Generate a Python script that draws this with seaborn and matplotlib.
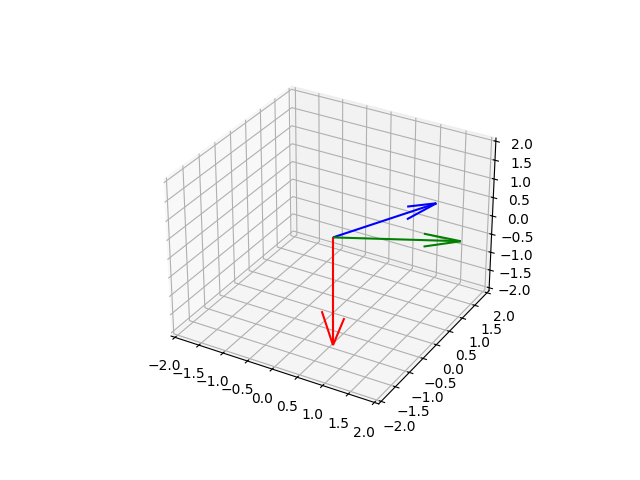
"""
3D quiver of three vectors from a common origin.
"""

import matplotlib

matplotlib.use("Agg")
import matplotlib.pyplot as plt
import seaborn as sns

vector_names = ["red", "green", "blue"]
vector_colors = ["r", "g", "b"]
u_values = [0.0, 2.0, 1.0]
v_values = [0.0, 1.0, 2.0]
w_values = [-3.0, 0.0, 0.0]
axis_limits = [-2, 2]

sns.reset_orig()
sns.set_palette(vector_colors)

# older matplotlib padded the 3D limits by 1/48, the reference has that look
view_margin = 1 / 48

fig = plt.figure(figsize=(6.4, 4.8), dpi=100)
ax = fig.add_subplot(projection="3d")

for name, color, u, v, w in zip(vector_names, vector_colors, u_values, v_values, w_values):
    ax.quiver(0, 0, 0, u, v, w, color=color, label=name)

ax.set_xlim(axis_limits, view_margin=view_margin)
ax.set_ylim(axis_limits, view_margin=view_margin)
ax.set_zlim(axis_limits, view_margin=view_margin)

plt.savefig("out.png")
plt.close()
